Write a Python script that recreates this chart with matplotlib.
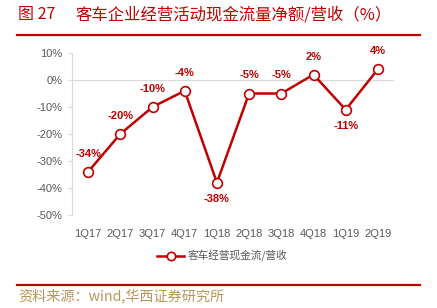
import matplotlib
matplotlib.use("Agg")
import matplotlib.pyplot as plt
from matplotlib.lines import Line2D

plt.rcParams['font.family'] = ['Liberation Sans', 'Noto Sans CJK SC', 'DejaVu Sans']

categories = ['1Q17', '2Q17', '3Q17', '4Q17', '1Q18', '2Q18', '3Q18', '4Q18', '1Q19', '2Q19']
values = [-34, -20, -10, -4, -38, -5, -5, 2, -11, 4]
label_below = [False, False, False, False, True, False, False, False, True, False]
yticks = [10, 0, -10, -20, -30, -40, -50]

title_num = '图 27'
title = '客车企业经营活动现金流量净额/营收（%）'
legend_label = '客车经营现金流/营收'
source = '资料来源：wind,华西证券研究所'

RED = '#C00000'
GRAY = '#595959'
GOLD = '#B8965A'

fig = plt.figure(figsize=(4.37, 3.08), dpi=100)
W, H = 437, 308
ax = fig.add_axes([72 / W, 1 - 215 / H, (394 - 72) / W, (215 - 53) / H])

x = list(range(len(categories)))
ax.axhline(0, color='#D9D9D9', lw=0.8, zorder=1)
ax.plot(x, values, color=RED, lw=1.8, marker='o', markersize=7,
        markerfacecolor='white', markeredgecolor=RED, markeredgewidth=1.2, zorder=3)

for xi, v, below in zip(x, values, label_below):
    off = -12 if below else 13
    ax.annotate(f'{v}%', (xi, v), xytext=(0, off), textcoords='offset points',
                ha='center', va='center', color=RED, fontsize=8, fontweight='bold')

ax.set_xlim(-0.5, len(categories) - 0.5)
ax.set_ylim(-50, 10)
ax.set_yticks(yticks)
ax.set_yticklabels([f'{t}%' for t in yticks], color=GRAY, fontsize=8)
ax.set_xticks(x)
ax.set_xticklabels(categories, color=GRAY, fontsize=8)
for s in ['top', 'right', 'bottom']:
    ax.spines[s].set_visible(False)
ax.spines['left'].set_color('#D9D9D9')
ax.spines['left'].set_linewidth(0.8)
ax.tick_params(axis='y', length=3, color='#D9D9D9', width=0.8, pad=4)
ax.tick_params(axis='x', length=0, pad=10)

# legend
h = Line2D([], [], color=RED, lw=1.8, marker='o', markersize=6,
           markerfacecolor='white', markeredgecolor=RED, markeredgewidth=1.2)
leg = fig.legend([h], [legend_label], loc='center', bbox_to_anchor=(222 / W, 1 - 256 / H),
                 frameon=False, handlelength=2.6, handletextpad=0.3,
                 prop={'family': ['Noto Sans CJK SC'], 'size': 7.7})
for t in leg.get_texts():
    t.set_color(GRAY)

# title and rules
fig.text(18 / W, 1 - 15 / H, title_num, color=RED, fontsize=11.5, ha='left', va='center',
         family=['Noto Sans CJK SC', 'DejaVu Sans'])
fig.text(75 / W, 1 - 15 / H, title, color=RED, fontsize=11.8, ha='left', va='center',
         family=['Noto Sans CJK SC', 'DejaVu Sans'])
fig.add_artist(Line2D([17 / W, 420 / W], [1 - 34.5 / H, 1 - 34.5 / H], color=RED, lw=1.6))
fig.add_artist(Line2D([17 / W, 420 / W], [1 - 285 / H, 1 - 285 / H], color=RED, lw=1.6))
fig.text(18 / W, 1 - 296 / H, source, color=GOLD, fontsize=10.2, ha='left', va='center',
         family=['Noto Sans CJK SC', 'DejaVu Sans'])

fig.savefig('out.png', dpi=100)
